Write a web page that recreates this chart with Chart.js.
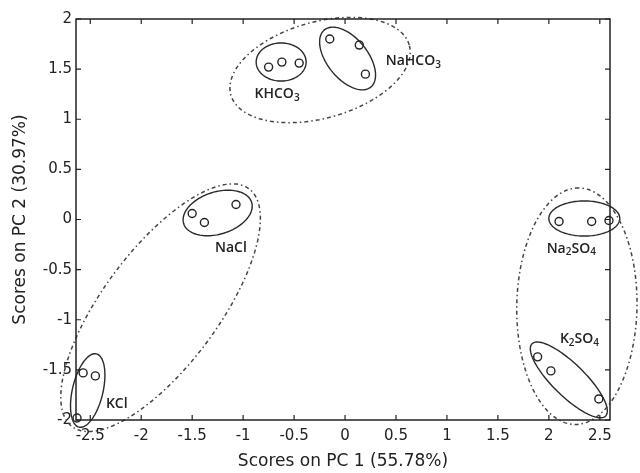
<!DOCTYPE html>
<html>
<head>
<meta charset="utf-8">
<script src="https://cdn.jsdelivr.net/npm/chart.js@4.4.0/dist/chart.umd.min.js"></script>
<style>
  html, body { margin: 0; padding: 0; background: #fff; }
</style>
</head>
<body>
<canvas id="pca" width="640" height="473"></canvas>
<script>
// groups of salts, 3 replicate samples each
const salts = ['KHCO3', 'NaHCO3', 'NaCl', 'KCl', 'Na2SO4', 'K2SO4'];
const pc1 = [
  [-0.75, -0.62, -0.45],
  [-0.15, 0.14, 0.20],
  [-1.50, -1.38, -1.07],
  [-2.57, -2.45, -2.63],
  [2.10, 2.42, 2.59],
  [1.89, 2.02, 2.49]
];
const pc2 = [
  [1.52, 1.57, 1.56],
  [1.80, 1.74, 1.45],
  [0.06, -0.03, 0.15],
  [-1.53, -1.56, -1.98],
  [-0.02, -0.02, -0.01],
  [-1.37, -1.51, -1.79]
];
const xTicks = [-2.5, -2, -1.5, -1, -0.5, 0, 0.5, 1, 1.5, 2, 2.5];
const yTicks = [-2, -1.5, -1, -0.5, 0, 0.5, 1, 1.5, 2];

// where the group names sit (PC1, PC2)
const labelX = [-0.667, 0.67, -1.12, -2.24, 2.22, 2.30];
const labelY = [1.25, 1.58, -0.285, -1.84, -0.29, -1.19];

// cluster ellipses: center, semi axes (score units), rotation in degrees
const ellipses = [
  { cx: -0.627, cy: 1.571, a: 0.245, b: 0.19, rot: 0, dash: false },
  { cx: 0.025, cy: 1.606, a: 0.365, b: 0.20, rot: -52, dash: false },
  { cx: -1.25, cy: 0.065, a: 0.35, b: 0.21, rot: 18, dash: false },
  { cx: -2.525, cy: -1.706, a: 0.375, b: 0.15, rot: 77, dash: false },
  { cx: 2.348, cy: 0.01, a: 0.348, b: 0.175, rot: 0, dash: false },
  { cx: 2.196, cy: -1.60, a: 0.51, b: 0.16, rot: -45, dash: false },
  { cx: -0.245, cy: 1.491, a: 0.91, b: 0.48, rot: 16, dash: true },
  { cx: -1.81, cy: -0.88, a: 1.47, b: 0.57, rot: 54, dash: true },
  { cx: 2.275, cy: -0.865, a: 1.18, b: 0.59, rot: 89, dash: true }
];

const ink = '#222';

function chemText(ctx, txt, cx, cy) {
  // split "Na2SO4" into normal / subscript pieces
  const parts = txt.match(/[A-Za-z]+|\d+/g);
  const big = '600 14px "Open Sans"', small = '600 10px "Open Sans"';
  let w = 0;
  parts.forEach(p => {
    ctx.font = /\d/.test(p) ? small : big;
    w += ctx.measureText(p).width;
  });
  let x = cx - w / 2;
  ctx.textAlign = 'left';
  ctx.textBaseline = 'middle';
  parts.forEach(p => {
    const sub = /\d/.test(p);
    ctx.font = sub ? small : big;
    ctx.fillText(p, x, sub ? cy + 4 : cy);
    x += ctx.measureText(p).width;
  });
}

const clusters = {
  id: 'clusters',
  afterDatasetsDraw(chart) {
    const { ctx, scales: { x, y } } = chart;
    ctx.save();
    ellipses.forEach(e => {
      const r = e.rot * Math.PI / 180;
      ctx.beginPath();
      for (let i = 0; i <= 120; i++) {
        const t = i / 120 * Math.PI * 2;
        const dx = e.a * Math.cos(t) * Math.cos(r) - e.b * Math.sin(t) * Math.sin(r);
        const dy = e.a * Math.cos(t) * Math.sin(r) + e.b * Math.sin(t) * Math.cos(r);
        const px = x.getPixelForValue(e.cx + dx), py = y.getPixelForValue(e.cy + dy);
        if (i === 0) ctx.moveTo(px, py); else ctx.lineTo(px, py);
      }
      ctx.closePath();
      if (e.dash) {
        ctx.strokeStyle = '#444';
        ctx.lineWidth = 1.5;
        ctx.setLineDash([4, 3, 1.5, 3]);
      } else {
        ctx.strokeStyle = '#2a2a2a';
        ctx.lineWidth = 1.4;
        ctx.setLineDash([]);
      }
      ctx.stroke();
    });
    ctx.setLineDash([]);
    ctx.fillStyle = ink;
    salts.forEach((s, i) => {
      chemText(ctx, s, x.getPixelForValue(labelX[i]), y.getPixelForValue(labelY[i]));
    });
    ctx.restore();
  },
  afterDraw(chart) {
    // matlab style box with inward ticks
    const { ctx, chartArea: { left, right, top, bottom }, scales: { x, y } } = chart;
    ctx.save();
    ctx.strokeStyle = ink;
    ctx.lineWidth = 1.5;
    ctx.strokeRect(left, top, right - left, bottom - top);
    ctx.lineWidth = 1.2;
    ctx.beginPath();
    xTicks.forEach(v => {
      const px = x.getPixelForValue(v);
      ctx.moveTo(px, bottom); ctx.lineTo(px, bottom - 5);
      ctx.moveTo(px, top); ctx.lineTo(px, top + 5);
    });
    yTicks.forEach(v => {
      const py = y.getPixelForValue(v);
      ctx.moveTo(left, py); ctx.lineTo(left + 5, py);
      ctx.moveTo(right, py); ctx.lineTo(right - 5, py);
    });
    ctx.stroke();
    ctx.restore();
  }
};

const datasets = salts.map((s, i) => ({
  label: s,
  data: pc1[i].map((v, j) => ({ x: v, y: pc2[i][j] })),
  pointRadius: 4,
  pointBorderWidth: 1.4,
  borderColor: ink,
  backgroundColor: 'rgba(0,0,0,0)',
  showLine: false,
  clip: false
}));

const tickFont = { family: 'DejaVu Sans', size: 15 };

new Chart(document.getElementById('pca'), {
  type: 'scatter',
  data: { datasets: datasets },
  options: {
    responsive: false,
    devicePixelRatio: 1,
    animation: false,
    layout: { padding: { top: 19, right: 30, left: 0, bottom: 0 } },
    plugins: {
      legend: { display: false },
      tooltip: { enabled: false }
    },
    scales: {
      x: {
        type: 'linear',
        min: -2.64,
        max: 2.6,
        afterBuildTicks: s => { s.ticks = xTicks.map(v => ({ value: v })); },
        afterFit: s => { s.height = 53; },
        grid: { display: false, drawTicks: false },
        border: { display: false },
        ticks: {
          color: ink, font: tickFont, padding: 7, maxRotation: 0, autoSkip: false,
          callback: v => String(v)
        },
        title: {
          display: true, text: 'Scores on PC 1 (55.78%)', color: ink,
          font: { family: 'DejaVu Sans', size: 17 }, padding: { top: 2, bottom: 1 }
        }
      },
      y: {
        type: 'linear',
        min: -2,
        max: 2,
        afterBuildTicks: s => { s.ticks = yTicks.map(v => ({ value: v })); },
        afterFit: s => { s.width = 76; },
        grid: { display: false, drawTicks: false },
        border: { display: false },
        ticks: {
          color: ink, font: tickFont, padding: 4, autoSkip: false,
          callback: v => String(v)
        },
        title: {
          display: true, text: 'Scores on PC 2 (30.97%)', color: ink,
          font: { family: 'DejaVu Sans', size: 17 }, padding: { top: 10, bottom: 0 }
        }
      }
    }
  },
  plugins: [clusters]
});
</script>
</body>
</html>
